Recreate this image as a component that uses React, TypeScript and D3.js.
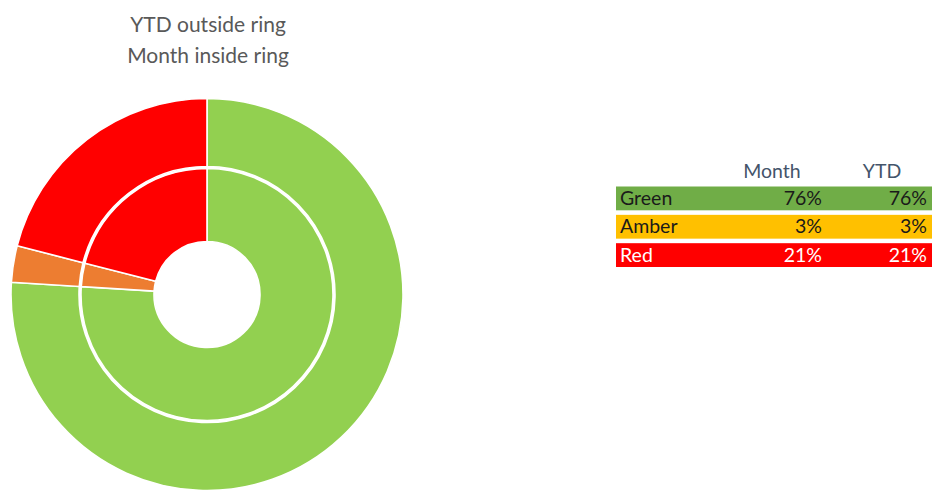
import React from "react";
import * as d3 from "d3";

const categories = ["Green", "Amber", "Red"];
const monthValues = [76, 3, 21];
const ytdValues = [76, 3, 21];
const sliceColors = ["#92D050", "#ED7D31", "#FF0000"];
const rowColors = ["#70AD47", "#FFC000", "#FF0000"];
const rowTextColors = ["#1a1a1a", "#1a1a1a", "#ffffff"];
const titleLines = ["YTD outside ring", "Month inside ring"];
const tableHeaders = ["Month", "YTD"];

const W = 932;
const H = 490;
const cx = 207;
const cy = 294.5;

export default function App() {
  const pie = d3
    .pie<number>()
    .sort(null)
    .value((d) => d)
    .startAngle(0)
    .endAngle(2 * Math.PI);

  const outerArc = d3.arc<d3.PieArcDatum<number>>().innerRadius(128).outerRadius(196);
  const innerArc = d3.arc<d3.PieArcDatum<number>>().innerRadius(53).outerRadius(126);

  const outerData = pie(ytdValues);
  const innerData = pie(monthValues);

  const rowY = d3.scaleBand<string>().domain(categories).range([186.5, 267]).paddingInner(0.16).paddingOuter(0);

  const font = "Lato, 'Open Sans', sans-serif";

  return (
    <svg
      width={W}
      height={H}
      style={{ position: "absolute", left: 0, top: 0, background: "#fff" }}
    >
      {titleLines.map((t, i) => (
        <text
          key={t}
          x={208}
          y={32 + i * 31}
          textAnchor="middle"
          fontFamily={font}
          fontSize={21}
          fill="#595959"
        >
          {t}
        </text>
      ))}
      <g transform={`translate(${cx},${cy})`}>
        {outerData.map((d, i) => (
          <path key={"o" + i} d={outerArc(d) || ""} fill={sliceColors[i]} stroke="#fff" strokeWidth={1.6} />
        ))}
        {innerData.map((d, i) => (
          <path key={"i" + i} d={innerArc(d) || ""} fill={sliceColors[i]} stroke="#fff" strokeWidth={1.6} />
        ))}
      </g>
      <g fontFamily={font} fontSize={19.5}>
        <text x={772} y={178} textAnchor="middle" fill="#44546A">
          {tableHeaders[0]}
        </text>
        <text x={882} y={178} textAnchor="middle" fill="#44546A">
          {tableHeaders[1]}
        </text>
        {categories.map((c, i) => {
          const y = rowY(c) as number;
          const h = rowY.bandwidth();
          return (
            <g key={c}>
              <rect x={616} y={y} width={W - 616} height={h} fill={rowColors[i]} />
              <text x={620} y={y + h / 2 + 6.5} fill={rowTextColors[i]}>
                {c}
              </text>
              <text x={822} y={y + h / 2 + 6.5} textAnchor="end" fill={rowTextColors[i]}>
                {monthValues[i]}%
              </text>
              <text x={927} y={y + h / 2 + 6.5} textAnchor="end" fill={rowTextColors[i]}>
                {ytdValues[i]}%
              </text>
            </g>
          );
        })}
      </g>
    </svg>
  );
}
